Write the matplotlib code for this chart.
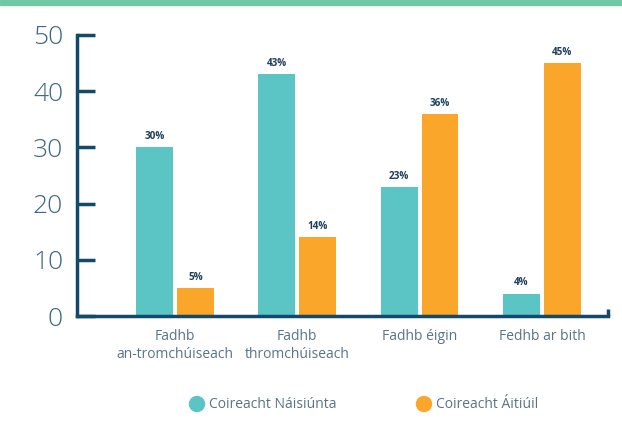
import matplotlib
matplotlib.use("Agg")
import matplotlib.pyplot as plt
import numpy as np

categories = ["Fadhb\nan-tromchúiseach", "Fadhb\nthromchúiseach", "Fadhb éigin", "Fedhb ar bith"]
national = [30, 43, 23, 4]
local = [5, 14, 36, 45]
series_names = ["Coireacht Náisiúnta", "Coireacht Áitiúil"]
yticks = [0, 10, 20, 30, 40, 50]

teal = "#5bc5c6"
orange = "#f9a62b"
navy = "#134a6a"
label_col = "#3d6683"

plt.rcParams["font.family"] = ["Open Sans", "DejaVu Sans"]

fig = plt.figure(figsize=(6.22, 4.28), dpi=100)
# green strip along the top
fig.patches.append(plt.Rectangle((0, 1 - 5 / 428), 1, 5 / 428, transform=fig.transFigure,
                                 color="#72c7a4", zorder=0))

ax = fig.add_axes([77 / 622, 1 - 316 / 428, (608 - 77) / 622, (316 - 35) / 428])
x = np.arange(len(categories))
w = 0.30
off = 0.167
b1 = ax.bar(x - off, national, w, color=teal, zorder=2)
b2 = ax.bar(x + off, local, w, color=orange, zorder=2)

for bars, vals in ((b1, national), (b2, local)):
    for b, v in zip(bars, vals):
        ax.text(b.get_x() + b.get_width() / 2, v + 0.9, f"{v}%", ha="center", va="bottom",
                fontsize=7.2, fontweight="bold", color="#1d3e5a")

ax.set_xlim(-0.8, 3.54)
ax.set_ylim(0, 50)
ax.set_yticks(yticks)
ax.tick_params(axis="y", direction="in", length=13, width=2.5, color=navy,
               labelsize=19, labelcolor=label_col, pad=10)
for t in ax.get_yticklabels():
    t.set_fontweight("light")
ax.set_xticks(x)
ax.set_xticklabels(categories)
ax.tick_params(axis="x", length=0, labelsize=10, labelcolor="#577488", pad=9)
for t in ax.get_xticklabels():
    t.set_linespacing(1.3)

for s in ("top", "right"):
    ax.spines[s].set_visible(False)
for s in ("left", "bottom"):
    ax.spines[s].set_color(navy)
    ax.spines[s].set_linewidth(2.5)
# small upturn at the right end of the baseline
ax.plot([3.54, 3.54], [0, 1.2], color=navy, lw=2.5, clip_on=False, solid_capstyle="butt")

# legend
for xc, name, col in ((197, series_names[0], teal), (424, series_names[1], orange)):
    fig.patches.append(matplotlib.patches.Ellipse((xc / 622, 1 - 404 / 428), 15 / 622, 15 / 428,
                                                  transform=fig.transFigure, color=col))
    fig.text((xc + 12) / 622, 1 - 404 / 428, name, ha="left", va="center",
             fontsize=10, color="#577488")

fig.savefig("out.png", dpi=100)
